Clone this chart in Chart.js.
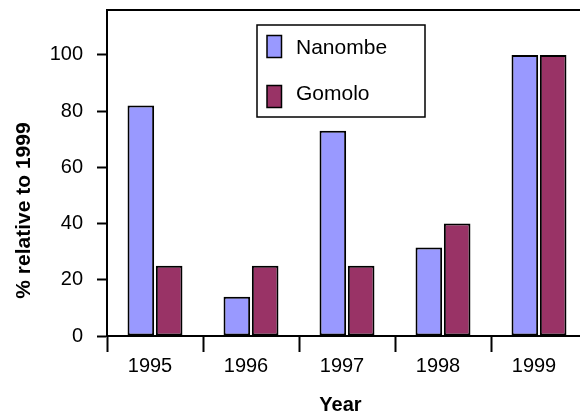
<!DOCTYPE html>
<html>
<head>
<meta charset="utf-8">
<script src="https://cdn.jsdelivr.net/npm/chart.js@4/dist/chart.umd.min.js"></script>
<style>
  html, body { margin: 0; padding: 0; background: #fff; }
  #wrap { width: 580px; height: 419px; overflow: hidden; position: relative; }
  canvas { display: block; }
</style>
</head>
<body>
<div id="wrap"><canvas id="c" width="600" height="419"></canvas></div>
<script>
// ---- data ----
const categories = ['1995', '1996', '1997', '1998', '1999'];
const seriesNames = ['Nanombe', 'Gomolo'];
const nanombe = [82, 14, 73, 31.5, 100];
const gomolo = [25, 25, 25, 40, 100];
const yMin = 0;
const yMax = 116;
const yStep = 20;
const xTitle = 'Year';
const yTitle = '% relative to 1999';

// ---- styles ----
const FONT = "'Liberation Sans', Arial, Helvetica, sans-serif";
const colors = ['#9999FF', '#993366'];

const frameTop = {
  id: 'frameTop',
  afterDraw(chart) {
    const { ctx, chartArea: a } = chart;
    ctx.save();
    ctx.strokeStyle = '#000';
    ctx.lineWidth = 2;
    ctx.beginPath();
    ctx.moveTo(a.left, a.top);
    ctx.lineTo(a.right, a.top);
    ctx.lineTo(a.right, a.bottom);
    ctx.stroke();
    ctx.restore();
  }
};

// axis titles (placed like the original figure, which is not centred on the plot)
const axisTitles = {
  id: 'axisTitles',
  afterDraw(chart) {
    const { ctx } = chart;
    ctx.save();
    ctx.fillStyle = '#000';
    ctx.textAlign = 'center';
    ctx.textBaseline = 'middle';
    ctx.font = 'bold 20px ' + FONT;
    ctx.fillText(xTitle, 340.5, 405.5);
    ctx.translate(24.5, 210.5);
    ctx.rotate(-Math.PI / 2);
    ctx.font = 'bold 21px ' + FONT;
    ctx.fillText(yTitle, 0, 0);
    ctx.restore();
  }
};

const boxLegend = {
  id: 'boxLegend',
  afterDraw(chart) {
    const { ctx } = chart;
    const box = { x: 257, y: 25, w: 168, h: 92 };
    ctx.save();
    ctx.fillStyle = '#fff';
    ctx.fillRect(box.x, box.y, box.w, box.h);
    ctx.strokeStyle = '#000';
    ctx.lineWidth = 1.5;
    ctx.strokeRect(box.x, box.y, box.w, box.h);
    const rows = [46.5, 96.5];
    const textRows = [48, 94];
    chart.data.datasets.forEach((ds, i) => {
      const sw = { x: 267, y: rows[i] - 11, w: 14.5, h: 22 };
      ctx.fillStyle = ds.backgroundColor;
      ctx.fillRect(sw.x, sw.y, sw.w, sw.h);
      ctx.lineWidth = 1.5;
      ctx.strokeStyle = '#000';
      ctx.strokeRect(sw.x, sw.y, sw.w, sw.h);
      ctx.fillStyle = '#000';
      ctx.font = '21px ' + FONT;
      ctx.textBaseline = 'middle';
      ctx.textAlign = 'left';
      ctx.fillText(ds.label, 296, textRows[i]);
    });
    ctx.restore();
  }
};

new Chart(document.getElementById('c'), {
  type: 'bar',
  data: {
    labels: categories,
    datasets: [
      { label: seriesNames[0], data: nanombe, backgroundColor: colors[0] },
      { label: seriesNames[1], data: gomolo, backgroundColor: colors[1] }
    ]
  },
  options: {
    responsive: false,
    animation: false,
    devicePixelRatio: 1,
    layout: { padding: { left: 0, top: 10, right: 13, bottom: 0 } },
    datasets: {
      bar: {
        categoryPercentage: 0.59,
        barPercentage: 0.94,
        borderColor: '#000',
        borderWidth: 2,
        borderSkipped: false
      }
    },
    plugins: {
      legend: { display: false },
      tooltip: { enabled: false },
      title: { display: false }
    },
    scales: {
      x: {
        offset: true,
        grid: {
          offset: true,
          drawOnChartArea: false,
          drawTicks: true,
          tickLength: 16,
          tickWidth: 2,
          tickColor: '#000'
        },
        border: { display: true, color: '#000', width: 2 },
        ticks: {
          color: '#000',
          padding: 2,
          maxRotation: 0,
          labelOffset: -5,
          font: { family: FONT, size: 20 }
        },
        title: { display: false },
        afterFit(scale) {
          scale.height = 83;
          scale.paddingLeft = 0; scale.paddingRight = 0;
          scale.paddingTop = 0; scale.paddingBottom = 0;
        }
      },
      y: {
        min: yMin,
        max: yMax,
        grid: {
          drawOnChartArea: false,
          drawTicks: true,
          tickLength: 10,
          tickWidth: 2,
          tickColor: '#000'
        },
        border: { display: true, color: '#000', width: 2 },
        ticks: {
          stepSize: yStep,
          includeBounds: false,
          color: '#000',
          padding: 14,
          font: { family: FONT, size: 20 }
        },
        title: { display: false },
        afterFit(scale) {
          scale.width = 107;
          scale.paddingLeft = 0; scale.paddingRight = 0;
          scale.paddingTop = 0; scale.paddingBottom = 0;
        }
      }
    }
  },
  plugins: [frameTop, axisTitles, boxLegend]
});
</script>
</body>
</html>
